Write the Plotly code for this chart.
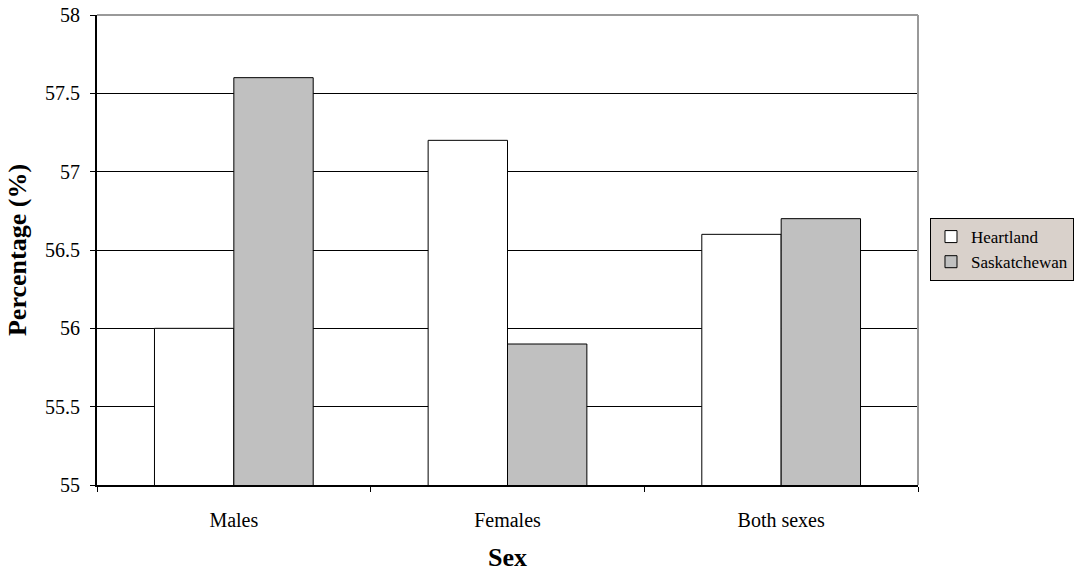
import plotly.graph_objects as go

categories = ["Males", "Females", "Both sexes"]
heartland = [56.0, 57.2, 56.6]
saskatchewan = [57.6, 55.9, 56.7]
y_ticks = [55, 55.5, 56, 56.5, 57, 57.5, 58]

serif = "Liberation Serif, Times New Roman, serif"

fig = go.Figure()
fig.add_trace(go.Bar(name="Heartland", x=categories, y=heartland,
                     marker=dict(color="white", line=dict(color="black", width=1))))
fig.add_trace(go.Bar(name="Saskatchewan", x=categories, y=saskatchewan,
                     marker=dict(color="#C0C0C0", line=dict(color="black", width=1))))

fig.update_layout(
    width=1083, height=576,
    barmode="group", bargap=0.42, bargroupgap=0,
    plot_bgcolor="white", paper_bgcolor="white",
    margin=dict(l=97, r=165, t=15, b=91, autoexpand=False),
    font=dict(family=serif, color="black"),
    legend=dict(x=1.0146, y=0.568, xanchor="left", yanchor="top",
                bgcolor="#D9D1CB", bordercolor="black", borderwidth=1,
                font=dict(family=serif, size=17, color="black"),
                itemwidth=30, tracegroupgap=0),
    xaxis=dict(title=dict(text="<b>Sex</b>", font=dict(family=serif, size=26), standoff=18),
               automargin=False,
               showline=True, linecolor="black", linewidth=2,
               ticks="outside", tickson="boundaries", ticklen=5, tickcolor="black",
               ticklabelstandoff=16,
               tickfont=dict(family=serif, size=20), showgrid=False),
    yaxis=dict(title=dict(text="<b>Percentage (%)</b>", font=dict(family=serif, size=26), standoff=11),
               automargin=False,
               range=[55, 58], tickvals=y_ticks, ticktext=[f"{v:g}" for v in y_ticks],
               showline=True, linecolor="black", linewidth=2,
               ticks="outside", ticklen=5, tickcolor="black",
               ticklabelstandoff=6, ticklabeloverflow="allow",
               tickfont=dict(family=serif, size=20),
               showgrid=True, gridcolor="black", gridwidth=1, zeroline=False),
    shapes=[
        dict(type="line", xref="paper", yref="paper", x0=0, x1=1, y0=1, y1=1,
             line=dict(color="#999999", width=2)),
        dict(type="line", xref="paper", yref="paper", x0=1, x1=1, y0=0, y1=1,
             line=dict(color="#999999", width=2)),
    ],
)

fig.write_html("out.html", config={"displayModeBar": False},
               post_script="document.body.style.margin='0';document.body.style.overflow='hidden';")
